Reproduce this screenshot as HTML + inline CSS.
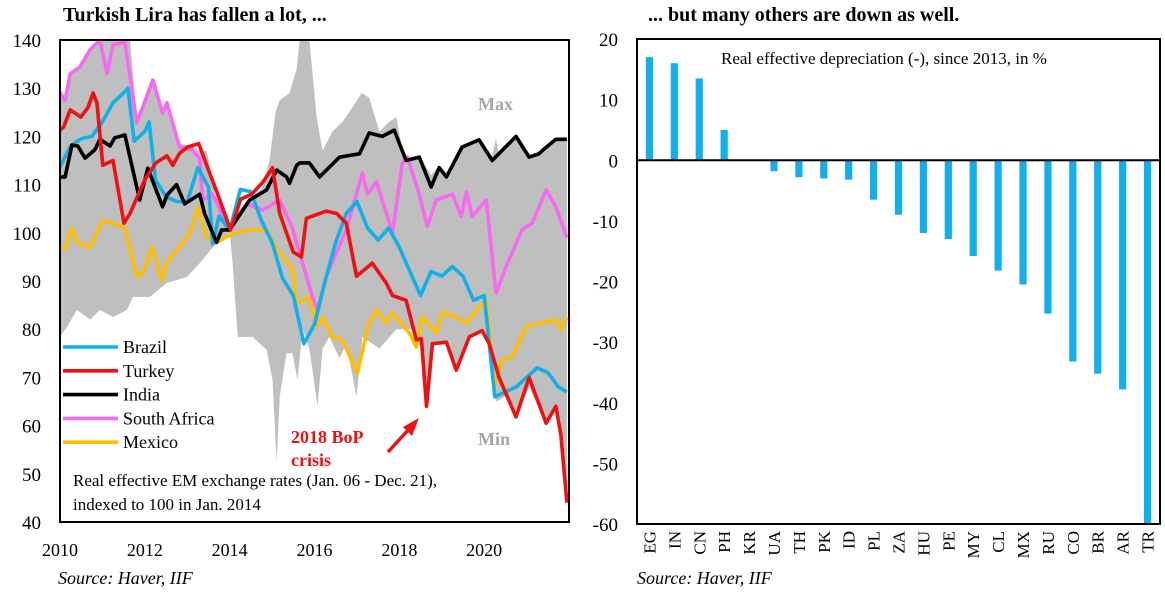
<!DOCTYPE html>
<html><head><meta charset="utf-8"><style>
html,body{margin:0;padding:0;background:#fff;}
svg{display:block;font-family:"Liberation Serif",serif;}
</style></head><body>
<svg id="c" width="1165" height="601" viewBox="0 0 1165 601"></svg>
<script>
// ---------- left chart data (years since 2010, index values) ----------
const brazilYrs=[0,.25,.5,.75,1,1.25,1.5,1.6,1.75,2,2.1,2.25,2.5,2.75,3,3.25,3.5,3.6,3.75,4,4.25,4.5,4.75,5,5.25,5.5,5.75,6,6.25,6.5,6.75,7,7.25,7.5,7.75,8,8.25,8.5,8.75,9,9.25,9.5,9.75,10,10.25,10.5,10.75,11,11.25,11.5,11.75,11.95];
const brazilVals=[113.7,118,119.5,120,123,127,129,130,119,121,123,111,107.5,106.5,106.5,113.5,109.5,97.7,103.5,100.5,109,108.5,102.5,98,90.5,87,77,81,90,98,104,106.5,101,98.5,101,97,92,87,92,91,93,91,86,87,66,67,68,70,72,71,68,67];
const turkeyYrs=[0,.09,.24,.49,.66,.78,.87,1.01,1.25,1.51,1.65,2,2.26,2.52,2.66,2.82,3.01,3.27,3.5,3.76,4.02,4.26,4.52,4.78,5.01,5.18,5.5,5.69,5.81,6.28,6.52,6.75,6.99,7.36,7.69,7.84,8.16,8.4,8.52,8.64,8.78,9.11,9.34,9.65,9.95,10.12,10.35,10.75,11.06,11.46,11.69,11.81,11.95];
const turkeyVals=[121.3,122,125.5,124,126,129,127,114,115,102,104,111,114.5,116,114,116.5,117.8,118.5,113,107,100.6,107,108,110.5,113.5,104,96,95,103,104.5,104,102,91,93.7,89.6,87,86,77.8,78,64,77,77.3,71.5,78.4,79.7,77,70,61.8,70,60.5,64,58,44];
const indiaYrs=[0,.12,.28,.42,.59,.82,.94,1.18,1.29,1.53,1.88,2.07,2.42,2.52,2.75,2.94,3.29,3.41,3.69,3.81,4,4.47,4.87,5.11,5.34,5.41,5.58,5.65,5.88,6.12,6.59,7.06,7.29,7.6,7.88,8.16,8.47,8.75,8.94,9.11,9.48,9.88,10.19,10.75,11.06,11.29,11.36,11.69,11.95];
const indiaVals=[111.6,111.6,118.2,118,115.5,117.2,119.4,118,119.7,120.3,106.8,113.4,105.4,107.8,110,106,108,104,98,100.6,100.6,106.8,108.9,113,111.6,110.3,114,114.5,114.5,111.6,115.7,116.4,120.7,120,121.3,115,115.7,109.5,113.5,111.6,117.8,119.3,115,120,115.7,116.4,117,119.4,119.4];
const safricaYrs=[0,.12,.24,.47,.71,.94,1.11,1.25,1.53,1.81,2.19,2.42,2.52,2.82,3.11,3.29,3.36,3.6,4,4.4,4.78,5.18,5.48,5.95,6.07,6.28,6.75,7.13,7.25,7.46,7.84,8.07,8.19,8.47,8.66,8.87,9.25,9.46,9.58,9.72,10.05,10.28,10.52,10.89,11.13,11.46,11.69,11.95];
const safricaVals=[129,127.5,133,134.4,138,140,133,139,139.5,122.8,131.7,124.8,127,117.8,117.2,115.5,106.8,108,100.6,106,104.7,106.8,101,86.7,84,91,100.6,112.4,108,110.6,100,114.5,115.7,108,101.3,106.8,108,103.4,108.5,103.4,106.8,87.5,93,100.6,102,108.9,105.4,99];
const mexicoYrs=[0,.12,.28,.4,.71,1.01,1.25,1.53,1.81,1.95,2.16,2.4,2.52,2.82,3.06,3.25,3.46,3.69,4.07,4.47,4.87,5.11,5.48,5.58,5.88,6.05,6.19,6.42,6.66,7.01,7.29,7.46,7.69,7.84,8.24,8.4,8.54,8.87,9.01,9.34,9.58,9.88,10.05,10.24,10.42,10.66,10.99,11.36,11.69,11.81,11.95];
const mexicoVals=[97,96.6,101,98,97,102.6,102,101,91,91.6,97,90.2,94,97,99.8,105.4,99,98,99.8,100.6,100.6,96.6,92.5,85.4,86.7,80.5,82.5,78.4,77.7,70.9,81.3,84,81.3,83.4,79.2,76.3,82.5,79.2,83.4,82.5,81.3,84.6,86,68,73.6,74.3,80.5,81.3,82,80,82.5];
const bandUpYrs=[0,.12,.24,.47,.71,.87,1.65,1.81,2,2.19,2.42,2.52,2.82,3.11,3.29,3.46,3.65,3.88,4,4.14,4.47,4.75,4.94,5.08,5.18,5.41,5.58,5.65,5.88,6.05,6.19,6.42,6.66,6.89,7.11,7.29,7.53,7.76,7.93,8.07,8.16,8.47,8.75,8.94,9.11,9.48,9.88,10.19,10.28,10.35,10.75,11.06,11.29,11.69,11.95];
const bandUpVals=[130,128,133,134.5,138,140,140,124,128,132,125,127,118.5,118,117,117,108,104,101,104,107,109,115,125,127.5,129,134,140,140,124,117,121,123,126,129,128,121,123,124,117,115,116,112,114,112,118,119.5,116,119.5,116,120.5,116,116.5,119.5,119.5];
const bandLoYrs=[0,.16,.4,.71,.94,1.25,1.58,1.72,2.12,2.52,2.99,3.29,3.69,4,4.07,4.19,4.54,4.87,5.01,5.11,5.18,5.34,5.48,5.6,5.72,5.88,6.07,6.19,6.35,6.59,6.75,6.99,7.13,7.53,7.93,8.28,8.4,8.52,8.64,8.78,9.11,9.34,9.65,9.95,10.12,10.28,10.49,10.75,11.06,11.46,11.69,11.81,11.95];
const bandLoVals=[78.4,80.4,84,82,84,82.5,84,86.7,86.7,89.6,90.8,93.7,97.9,100,93.7,78.4,78.4,75.7,69.5,52.2,66,75,75,69.5,80,76,64,76,78.4,74,77,66,78.4,76,80,80,77.8,76,64,77,77.3,71.5,78.4,79.7,77,65,66,61.8,68,60.5,64,58,44];
const yTicks=[140,130,120,110,100,90,80,70,60,50,40];
const xTicks=[2010,2012,2014,2016,2018,2020];
const legendNames=["Brazil","Turkey","India","South Africa","Mexico"];
// ---------- right chart data ----------
const countries=["EG","IN","CN","PH","KR","UA","TH","PK","ID","PL","ZA","HU","PE","MY","CL","MX","RU","CO","BR","AR","TR"];
const deprec=[17,16,13.5,5,0,-1.8,-2.8,-3,-3.2,-6.5,-9,-12,-13,-15.8,-18.2,-20.5,-25.3,-33.2,-35.2,-37.8,-60];
const rTicks=[20,10,0,-10,-20,-30,-40,-50,-60];

const NS="http://www.w3.org/2000/svg";
const svg=document.getElementById('c');
function mk(tag,attrs,parent){const e=document.createElementNS(NS,tag);for(const k in attrs)e.setAttribute(k,attrs[k]);(parent||svg).appendChild(e);return e;}
function tx(str,attrs,parent){const e=mk('text',attrs,parent);e.textContent=str;return e;}

const L={x0:60,x1:569,y0:40,y1:522};
const lx=t=>L.x0+(t)/12*(L.x1-L.x0);
const ly=v=>L.y0+(140-v)/100*(L.y1-L.y0);
const cols={Brazil:"#10b0e8",Turkey:"#ee1111",India:"#000",SA:"#f76af0",Mexico:"#ffbf00"};

const clip=mk('clipPath',{id:'lc'});mk('rect',{x:L.x0,y:L.y0,width:L.x1-L.x0,height:L.y1-L.y0},clip);

let pts=bandUpYrs.map((t,i)=>lx(t).toFixed(1)+","+ly(bandUpVals[i]).toFixed(1));
for(let i=bandLoYrs.length-1;i>=0;i--)pts.push(lx(bandLoYrs[i]).toFixed(1)+","+ly(bandLoVals[i]).toFixed(1));
const band=mk('polygon',{points:pts.join(" "),fill:"#bfbfbf","clip-path":"url(#lc)"});



function line(yrs,vals,col,name){
  const p=mk('polyline',{points:yrs.map((t,i)=>lx(t).toFixed(1)+","+ly(vals[i]).toFixed(1)).join(" "),fill:"none",stroke:col,"stroke-width":3.6,"stroke-linejoin":"round","clip-path":"url(#lc)"});
  
  
}
line(mexicoYrs,mexicoVals,cols.Mexico,'mexico-line');
line(safricaYrs,safricaVals,cols.SA,'south-africa-line');
line(brazilYrs,brazilVals,cols.Brazil,'brazil-line');
line(indiaYrs,indiaVals,cols.India,'india-line');
line(turkeyYrs,turkeyVals,cols.Turkey,'turkey-line');

const lf=mk('rect',{x:L.x0,y:L.y0,width:L.x1-L.x0,height:L.y1-L.y0,fill:"none",stroke:"#000","stroke-width":2});



yTicks.forEach(v=>{const t=tx(String(v),{x:41,y:ly(v)+7,"text-anchor":"end","font-size":19});
  
  });
xTicks.forEach(y=>{const t=tx(String(y),{x:lx(y-2010),y:556,"text-anchor":"middle","font-size":18});
  
  });

const lcol=[cols.Brazil,cols.Turkey,cols.India,cols.SA,cols.Mexico];
legendNames.forEach((n,i)=>{const g=mk('g',{});
  
  
  const y=347+i*23.8;
  mk('line',{x1:63,x2:118,y1:y,y2:y,stroke:lcol[i],"stroke-width":3.6},g);
  tx(n,{x:123,y:y+6,"font-size":18},g);});

tx("Real effective EM exchange rates (Jan. 06 - Dec. 21),",{x:73,y:486,"font-size":17,});
tx("indexed to 100 in Jan. 2014",{x:73,y:510,"font-size":17,});
tx("Max",{x:478,y:110,"font-size":18,"font-weight":"bold",fill:"#a6a6a6",});
tx("Min",{x:478,y:445,"font-size":18,"font-weight":"bold",fill:"#a6a6a6",});
tx("2018 BoP",{x:291,y:443,"font-size":18,"font-weight":"bold",fill:"#ee1111",});
tx("crisis",{x:291,y:466,"font-size":18,"font-weight":"bold",fill:"#ee1111",});
const ar=mk('g',{});


mk('line',{x1:388,y1:452,x2:410,y2:428,stroke:"#ee1111","stroke-width":3.5},ar);
mk('polygon',{points:"419,418 403,427 412,436",fill:"#ee1111"},ar);

tx("Turkish Lira has fallen a lot, ...",{x:63,y:21,"font-size":20,"font-weight":"bold",});
tx("Source: Haver, IIF",{x:58,y:584,"font-size":18,"font-style":"italic",});

const R={x0:637,x1:1160,y0:39,y1:524};
const ry=v=>R.y0+(20-v)/80*(R.y1-R.y0);
const step=(R.x1-R.x0)/countries.length;
const rx=i=>R.x0+step*(i+0.5);
countries.forEach((c,i)=>{
  const v=deprec[i];const y0=ry(0),y=ry(v);
  if(v!==0){const b=mk('rect',{x:rx(i)-3.6,y:Math.min(y0,y),width:7.2,height:Math.abs(y-y0),fill:"#12b0ea"});
    
    }
  const t=tx(c,{x:0,y:0,"font-size":17,"text-anchor":"end",transform:`translate(${rx(i)+6},531) rotate(-90)`});
  
  
});
const zl=mk('line',{x1:R.x0,x2:R.x1,y1:ry(0),y2:ry(0),stroke:"#000","stroke-width":2});


const rf=mk('rect',{x:R.x0,y:R.y0,width:R.x1-R.x0,height:R.y1-R.y0,fill:"none",stroke:"#000","stroke-width":2});


rTicks.forEach(v=>{const t=tx(String(v),{x:618,y:ry(v)+7,"text-anchor":"end","font-size":19});
  
  });
tx("Real effective depreciation (-), since 2013, in %",{x:721,y:64,"font-size":17,});
tx("... but many others are down as well.",{x:648,y:21,"font-size":20,"font-weight":"bold",});
tx("Source: Haver, IIF",{x:637,y:584,"font-size":18,"font-style":"italic",});
</script>
</body></html>
